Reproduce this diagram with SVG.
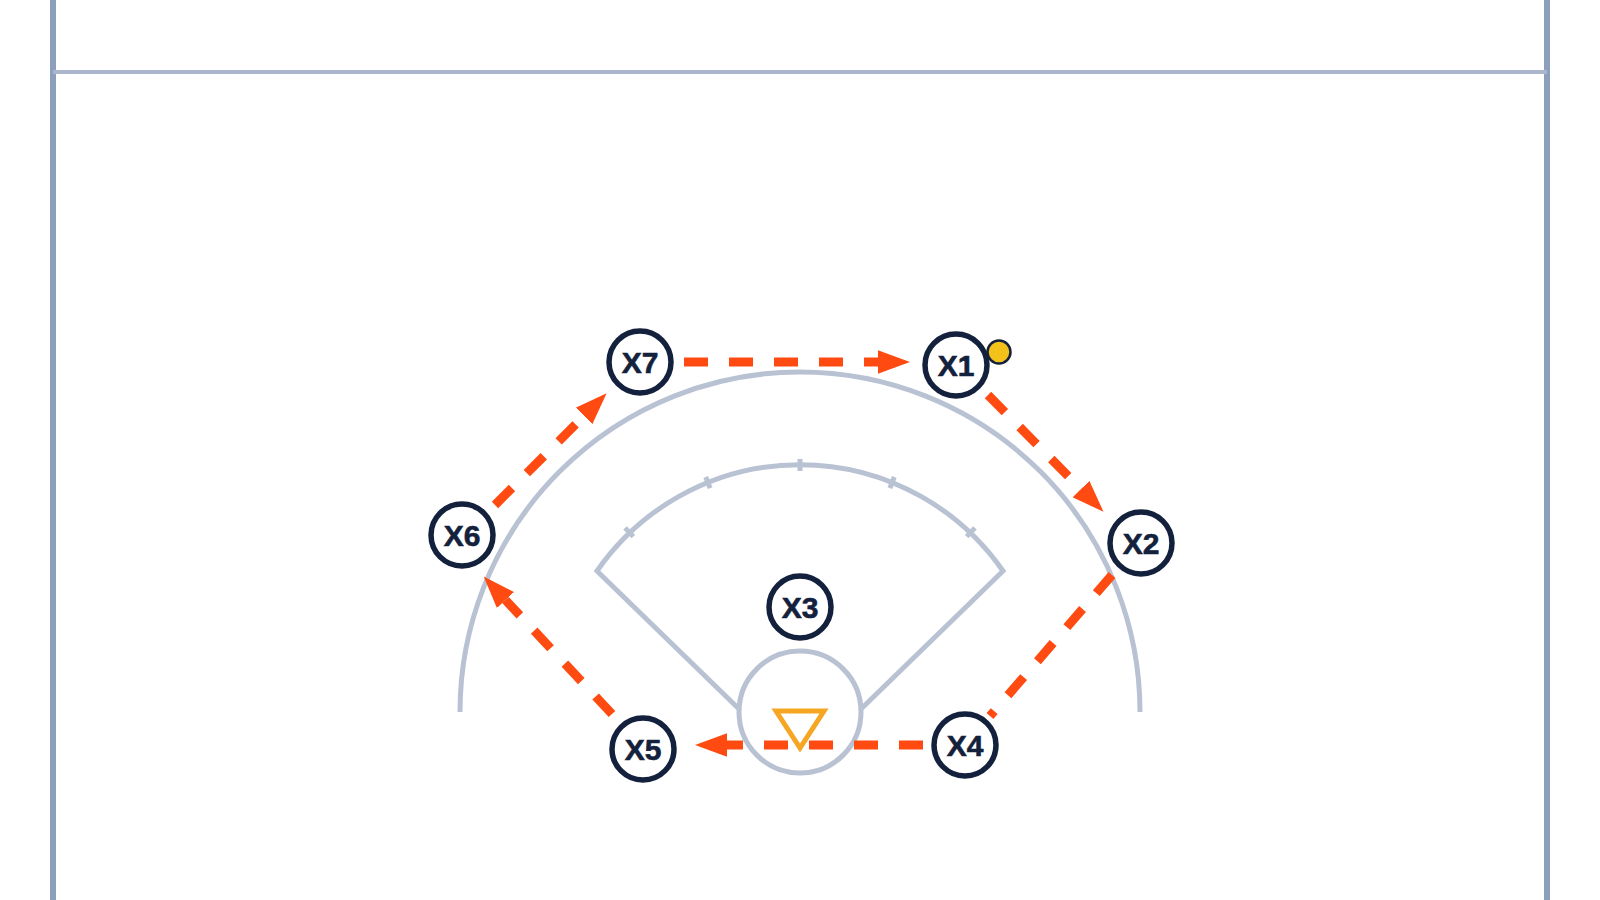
<svg xmlns="http://www.w3.org/2000/svg" width="1600" height="900" viewBox="0 0 1600 900">
<style>
.court{fill:none;stroke:#b8c2d3;stroke-width:5}
.tick{stroke:#b8c2d3;stroke-width:5}
.border{stroke:#8d9fbe;stroke-width:6}
.hline{stroke:#a9b6cb;stroke-width:4}
.pass{fill:none;stroke:#ff4a12;stroke-width:9;stroke-dasharray:24 21}
.arrow{marker-end:url(#ah)}
.player circle{fill:#fff;stroke:#13213c;stroke-width:5.5}
.player text{font-family:"Liberation Sans",Arial,sans-serif;font-weight:bold;font-size:30px;fill:#13213c;text-anchor:middle;stroke:#13213c;stroke-width:0.6}
</style>
<defs>
<marker id="ah" markerUnits="userSpaceOnUse" markerWidth="32" markerHeight="24" refX="0" refY="11" orient="auto" viewBox="0 0 30 22">
<path d="M0,0 L30,11 L0,22 z" fill="#ff4a12"/>
</marker>
</defs>
<rect width="1600" height="900" fill="#fff"/>
<g id="court">
<line class="border" x1="53" y1="0" x2="53" y2="900"/>
<line class="border" x1="1547" y1="0" x2="1547" y2="900"/>
<line class="hline" x1="53" y1="72" x2="1547" y2="72"/>
<path class="court" d="M460 712 A340 340 0 0 1 1140 712"/>
<path class="court" d="M739 709 L597 571 A247 247 0 0 1 1003 571 L861 709"/>
<line class="tick" x1="800" y1="459" x2="800" y2="471"/>
<line class="tick" x1="710.1" y1="488.1" x2="705.7" y2="477.0"/>
<line class="tick" x1="889.9" y1="488.1" x2="894.3" y2="477.0"/>
<line class="tick" x1="633.3" y1="536.6" x2="625.1" y2="527.9"/>
<line class="tick" x1="966.7" y1="536.6" x2="974.9" y2="527.9"/>
<circle class="court" cx="800" cy="712" r="61"/>
</g>
<g id="connectors">
<line class="pass arrow" x1="684" y1="362" x2="878" y2="362"/>
<line class="pass arrow" x1="988" y1="395" x2="1081" y2="489"/>
<line class="pass" x1="1112" y1="575" x2="990" y2="716"/>
<line class="pass arrow" x1="923" y1="745" x2="727" y2="745"/>
<line class="pass arrow" x1="612" y1="714" x2="505.5" y2="600"/>
<line class="pass arrow" x1="495" y1="505" x2="584" y2="416"/>
</g>
<g id="cone">
<polygon points="776,711 824,711 800,748" fill="none" stroke="#f5a623" stroke-width="5"/>
</g>
<g id="X7" class="player"><circle cx="640" cy="362" r="31"/><text x="640" y="373">X7</text></g>
<g id="X1" class="player"><circle cx="956" cy="365" r="31"/><text x="956" y="376">X1</text></g>
<g id="ball"><circle cx="999" cy="352" r="11.5" fill="#f2c21b" stroke="#13213c" stroke-width="2.5"/></g>
<g id="X2" class="player"><circle cx="1141" cy="543" r="31"/><text x="1141" y="554">X2</text></g>
<g id="X6" class="player"><circle cx="462" cy="535" r="31"/><text x="462" y="546">X6</text></g>
<g id="X3" class="player"><circle cx="800" cy="607" r="31"/><text x="800" y="618">X3</text></g>
<g id="X5" class="player"><circle cx="643" cy="749" r="31"/><text x="643" y="760">X5</text></g>
<g id="X4" class="player"><circle cx="965" cy="745" r="31"/><text x="965" y="756">X4</text></g>
</svg>
